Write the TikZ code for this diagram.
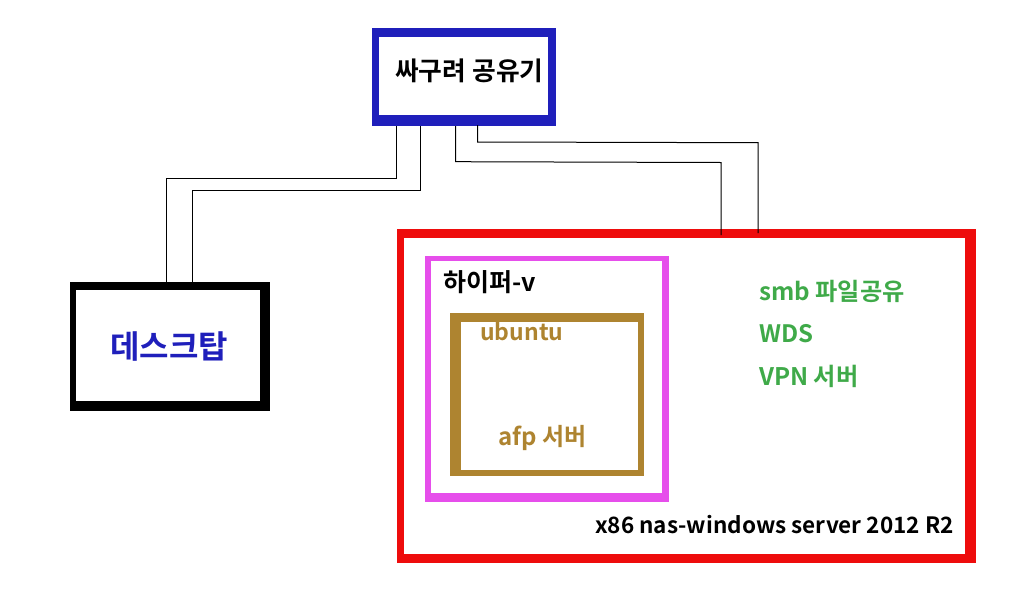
\documentclass[tikz,border=0pt]{standalone}
\usepackage{fontspec}
\setmainfont{Noto Sans CJK KR}[BoldFont={* Bold}]
\definecolor{rblue}{HTML}{1F1FBB}
\definecolor{rred}{HTML}{EE0C0C}
\definecolor{rmag}{HTML}{E64EEB}
\definecolor{rbrown}{HTML}{AE8430}
\definecolor{rgreen}{HTML}{3FAA49}
\tikzset{
  frame/.style={anchor=north west,inner sep=0pt,outer sep=0pt,draw=none},
  lab/.style={anchor=base west,inner sep=0pt,font=\bfseries\fontsize{#1}{#1}\selectfont},
  wire/.style={draw=black,line width=1pt,line join=miter}
}
\begin{document}
\begin{tikzpicture}[x=1pt,y=-1pt]
\useasboundingbox (0,0) rectangle (1024,608);
\fill[white] (0,0) rectangle (1024,608);
% router
\node[frame,fill=rblue,minimum width=184pt,minimum height=98pt] (router) at (372,28) {};
\node[frame,fill=white,minimum width=169pt,minimum height=78pt] (routerin) at (379,37) {};
% desktop
\node[frame,fill=black,minimum width=200pt,minimum height=129pt] (desktop) at (70,282) {};
\node[frame,fill=white,minimum width=184pt,minimum height=111pt] (desktopin) at (76,290) {};
% nas
\node[frame,fill=rred,minimum width=579pt,minimum height=334pt] (nas) at (397,229) {};
\node[frame,fill=white,minimum width=561pt,minimum height=316pt] (nasin) at (404,238) {};
% hyper-v
\node[frame,fill=rmag,minimum width=244pt,minimum height=246pt] (hyperv) at (425,256) {};
\node[frame,fill=white,minimum width=231pt,minimum height=232pt] (hypervin) at (431,261) {};
% ubuntu
\node[frame,fill=rbrown,minimum width=194pt,minimum height=163pt] (ubuntu) at (450,313) {};
\node[frame,fill=white,minimum width=177pt,minimum height=148pt] (ubuntuin) at (461,322) {};
% wires
\coordinate (r1) at (396.7,126);
\coordinate (r2) at (420,126);
\coordinate (r3) at (455.7,126);
\coordinate (r4) at (477.7,125);
\coordinate (d1) at (166.7,282);
\coordinate (d2) at (192.7,282);
\coordinate (n1) at (721,235);
\coordinate (n2) at (758,233);
\draw[wire] (r1) -- (396.7,178.7) -- (166.7,178.7) -- (d1);
\draw[wire] (r2) -- (420,190) -- (192.7,190) -- (d2);
\draw[wire] (r3) -- (455.7,161.7) -- (721,162.5) -- (n1);
\draw[wire] (r4) -- (477.7,142) -- (758,142.7) -- (n2);
% labels
\node[lab=25.8] (t1) at (395,80.5) {싸구려 공유기};
\node[lab=32,text=rblue] (t2) at (110,358) {데스크탑};
\node[lab=25] (t3) at (443,291) {하이퍼-v};
\node[lab=23,text=rbrown] (t4) at (480,340.5) {ubuntu};
\node[lab=24,text=rbrown] (t5) at (498,445) {afp 서버};
\node[lab=24.2,text=rgreen] (t6) at (759,300.5) {smb 파일공유};
\node[lab=24,text=rgreen] (t7) at (759,342.5) {WDS};
\node[lab=24.2,text=rgreen] (t8) at (759,385) {VPN 서버};
\node[lab=22.5] (t9) at (595,533.5) {x86 nas-windows server 2012 R2};
\end{tikzpicture}
\end{document}
